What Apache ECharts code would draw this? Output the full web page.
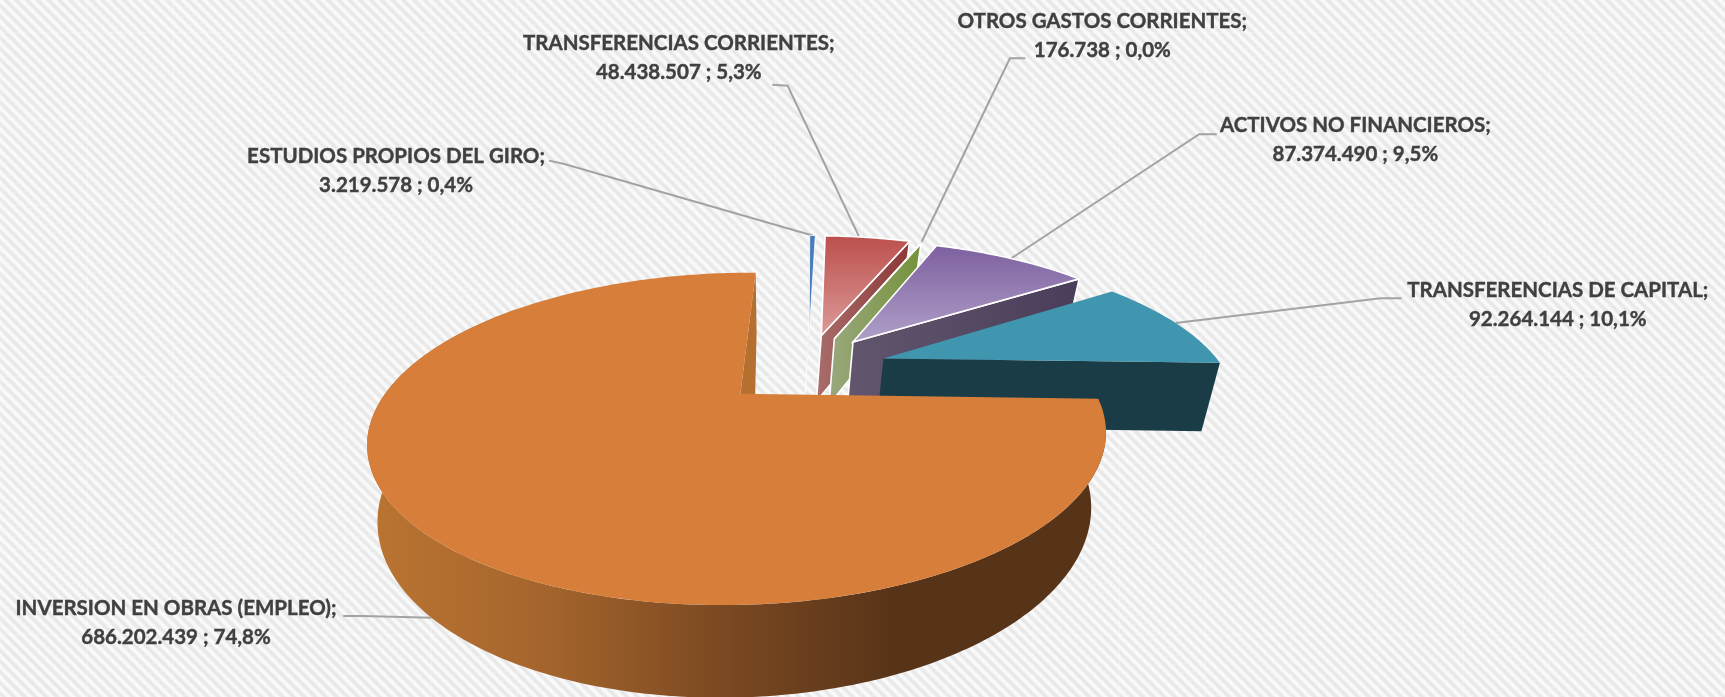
<!DOCTYPE html>
<html><head><meta charset="utf-8">
<style>html,body{margin:0;padding:0;background:#fff;overflow:hidden}#c{width:1725px;height:697px}</style>
<script src="https://cdn.jsdelivr.net/npm/echarts@6/dist/echarts.min.js"></script>
</head><body><div id="c"></div>
<script>
// ---------- data ----------
const categories = ['ESTUDIOS PROPIOS DEL GIRO','TRANSFERENCIAS CORRIENTES','OTROS GASTOS CORRIENTES','ACTIVOS NO FINANCIEROS','TRANSFERENCIAS DE CAPITAL','INVERSION EN OBRAS (EMPLEO)'];
const values = [3219578,48438507,176738,87374490,92264144,686202439];
// ---------- styling / layout ----------
const S = 1725/1568;
const explodeX = [0.2,0.238,0.278,0.335,0.42,0];
const explodeY = [0.426,0.422,0.396,0.371,0.245,0];
const leaderAt = [0.5,0.4,0.5,0.5,0.5,0.49];
const labelCX = [360,617,1002,1232,1416,160];
const labelCY = [155.5,52.5,32.5,127.5,277.5,566];
const elbowA = [[499,146],[702,77],[932,53],[1106,122],[1274,271],[312,560]];
const elbowB = [[513,149],[716,78],[918,53],[1090,122],[1255,271],[330,560]];
const topFill = [
 ['#4a7ebb','#4a7ebb'],['#bb4f4c','#dc9b99'],['#77933c','#77933c'],['#7d60a0','#b0a0c8'],['#4096ae','#4096ae'],['#d77f3a','#d77f3a']];
const wallFill = [
 ['#4a7ebb','#4a7ebb'],['#a96e6c','#8c3735'],['#9aa87e','#75923a'],['#62566e','#4a3d5a'],['#1a3c47','#1a3c47'],['#b5702f','#b5702f']];
const borderW = [0.8,1.6,1.6,1.6,0,0];
const ROT = 1;
const TOP = {cx:673,cy:358,a:323,b:140,k:0.271,s:12};
const LOW = {cx:671,cy:423,a:312,b:154,k:0.271,s:12};
const total = values.reduce((a,b)=>a+b,0);
const fmtInt = v => String(v).replace(/\B(?=(\d{3})+$)/g,'.');
const fmtPct = v => (v/total*100).toFixed(1).replace('.',',')+'%';
function proj(P,X,Y){const w=1+P.k*Y;return [(P.cx+(P.a*X+P.s*Y)/w)*S,(P.cy-P.b*Y/w)*S];}
function rim(P,dx,dy,deg){const r=deg*Math.PI/180;return proj(P,dx+Math.sin(r),dy+Math.cos(r));}
function arc(P,dx,dy,d0,d1){const pts=[];const n=Math.max(1,Math.ceil(Math.abs(d1-d0)));
  for(let i=0;i<=n;i++)pts.push(rim(P,dx,dy,d0+(d1-d0)*i/n));return pts;}
const grad=(c,vertical)=>({type:'linear',x:0,y:0,x2:vertical?0:1,y2:vertical?1:0,colorStops:[{offset:0,color:c[0]},{offset:1,color:c[1]}]});
const orangeWall={type:'linear',x:0,y:0,x2:1,y2:0,colorStops:[
 {offset:0,color:'#bb7532'},{offset:.25,color:'#a3642c'},{offset:.47,color:'#7d4a22'},{offset:.72,color:'#573318'},{offset:1,color:'#573318'}]};

function renderItem(params,api){
  const i=params.dataIndex, v=api.value(0);
  let before=0; for(let j=0;j<i;j++)before+=values[j];
  const d0=before/total*360+ROT, d1=(before+v)/total*360+ROT, mid=d0+(d1-d0)*leaderAt[i];
  const dx=explodeX[i], dy=explodeY[i];
  const kids=[];
  const isMain=i===values.length-1;
  const border=borderW[i]?{stroke:'#fff',lineWidth:borderW[i]}:{};
  // leader line
  const end=isMain?rim(LOW,dx,dy,mid):rim(TOP,dx,dy,mid);
  kids.push({type:'polyline',shape:{points:[[elbowA[i][0]*S,elbowA[i][1]*S],[elbowB[i][0]*S,elbowB[i][1]*S],end]},
    style:{fill:'none',stroke:'#a3a3a3',lineWidth:2},z2:1});
  const aT=proj(TOP,dx,dy), aL=proj(LOW,dx,dy);
  if(isMain){
    // inner radial sliver at the far side
    const tOut=rim(TOP,dx,dy,d1), lOut=rim(LOW,dx,dy,d1);
    kids.push({type:'polygon',shape:{points:[aT,tOut,[lOut[0]+3*S,lOut[1]],[aL[0]+14*S,aL[1]]]},style:{fill:wallFill[i][0]},z2:2});
    // outer wall, front side
    const upper=arc(TOP,dx,dy,d0,310), lower=arc(LOW,dx,dy,d0,310).reverse();
    kids.push({type:'polygon',shape:{points:upper.concat(lower)},style:{fill:orangeWall},z2:3});
  } else {
    // radial wall on the clockwise side
    const tOut=rim(TOP,dx,dy,d1), lOut=rim(LOW,dx,dy,d1);
    kids.push({type:'polygon',shape:{points:[aT,tOut,lOut,aL]},style:Object.assign({fill:grad(wallFill[i],false)},border),z2:3});
  }
  // top surface
  const face=[aT].concat(arc(TOP,dx,dy,d0,d1));
  kids.push({type:'polygon',shape:{points:face},style:Object.assign({fill:grad(topFill[i],true)},border),z2:4});
  // label
  kids.push({type:'text',z2:6,style:{
    text:categories[i]+';\n'+fmtInt(v)+' ; '+fmtPct(v),
    x:labelCX[i]*S,y:labelCY[i]*S,align:'center',verticalAlign:'middle',
    fontFamily:'Lato',fontWeight:'bold',fontSize:20.5,lineHeight:29,fill:'#404040',
    stroke:'#404040',lineWidth:0.4}});
  return {type:'group',children:kids};
}
// striped wallpaper tile
function tile(){
  const n=86,P=86/8,c=document.createElement('canvas');c.width=c.height=n;
  const g=c.getContext('2d'),im=g.createImageData(n,n);
  for(let y=0;y<n;y++)for(let x=0;x<n;x++){
    let t=241+10*Math.cos(2*Math.PI*(x-y)/P);
    if(x===1||y===32)t=Math.min(250,t+5);
    const o=(y*n+x)*4;im.data[o]=im.data[o+1]=im.data[o+2]=t;im.data[o+3]=255;}
  g.putImageData(im,0,0);return c;
}
const chart=echarts.init(document.getElementById('c'),null,{renderer:'canvas'});
chart.setOption({
  animation:false,
  backgroundColor:{image:tile(),repeat:'repeat'},
  series:[{type:'custom',coordinateSystem:'none',renderItem,
    data:values.map((v,i)=>({name:categories[i],value:[v]})),silent:true}]
});
</script></body></html>
